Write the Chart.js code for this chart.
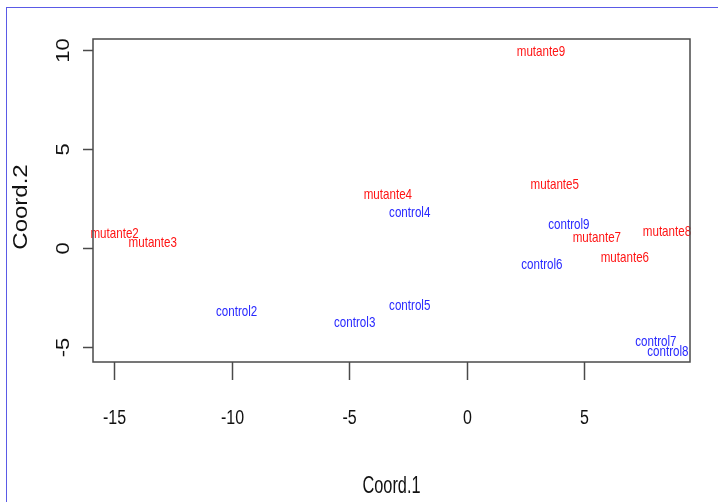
<!DOCTYPE html>
<html>
<head>
<meta charset="utf-8">
<script src="https://cdn.jsdelivr.net/npm/chart.js@4"></script>
<style>
  html, body { margin: 0; padding: 0; background: #fff; }
  #wrap { position: relative; width: 718px; height: 502px; }
  #frame { position: absolute; left: 6px; top: 7px; right: 0; bottom: 0;
           border-left: 1px solid #5a5ae6; border-top: 1px solid #5a5ae6; }
  canvas { position: absolute; left: 0; top: 0; }
</style>
</head>
<body>
<div id="wrap">
  <div id="frame"></div>
  <canvas id="chart" width="718" height="502"></canvas>
</div>
<script>
// point labels (Coord.1, Coord.2)
const controlNames = ['control2', 'control3', 'control4', 'control5', 'control6', 'control7', 'control8', 'control9'];
const controlX = [-9.79, -4.77, -2.43, -2.43, 3.19, 8.04, 8.55, 4.34];
const controlY = [-3.23, -3.79, 1.77, -2.93, -0.86, -4.75, -5.25, 1.16];

const mutantNames = ['mutante2', 'mutante3', 'mutante4', 'mutante5', 'mutante6', 'mutante7', 'mutante8', 'mutante9'];
const mutantX = [-14.98, -13.36, -3.36, 3.74, 6.72, 5.53, 8.51, 3.15];
const mutantY = [0.71, 0.25, 2.68, 3.18, -0.51, 0.51, 0.81, 9.9];

const xTicks = [-15, -10, -5, 0, 5];
const yTicks = [-5, 0, 5, 10];
const xTitle = 'Coord.1';
const yTitle = 'Coord.2';

const toPoints = (xs, ys, names) => xs.map((x, i) => ({x: x, y: ys[i], name: names[i]}));

const FONT = '"Liberation Sans", Arial, sans-serif';

// the original picture is squeezed sideways, so text gets a horizontal scale
function squeezedText(ctx, text, x, y, size, sx, rotated) {
  ctx.save();
  ctx.translate(x, y);
  ctx.scale(sx, 1);
  if (rotated) ctx.rotate(-Math.PI / 2);
  ctx.font = size + 'px ' + FONT;
  ctx.fillText(text, 0, 0);
  ctx.restore();
}

// draws the R-style box, axes and the text labels at each point
const rPlot = {
  id: 'rPlot',
  afterDatasetsDraw(chart) {
    const ctx = chart.ctx;
    const a = chart.chartArea;
    const xs = chart.scales.x, ys = chart.scales.y;
    ctx.save();
    ctx.textAlign = 'center';
    ctx.textBaseline = 'middle';

    // text labels
    chart.data.datasets.forEach(ds => {
      ctx.fillStyle = ds.labelColor;
      ds.data.forEach(p => {
        squeezedText(ctx, p.name, xs.getPixelForValue(p.x), ys.getPixelForValue(p.y), 14.5, 0.8, false);
      });
    });

    // box
    ctx.strokeStyle = '#4a4a4a';
    ctx.lineWidth = 1.5;
    ctx.strokeRect(a.left, a.top, a.right - a.left, a.bottom - a.top);

    // x axis
    ctx.fillStyle = '#111';
    xTicks.forEach(v => {
      const px = Math.round(xs.getPixelForValue(v)) + 0.5;
      ctx.beginPath();
      ctx.moveTo(px, a.bottom);
      ctx.lineTo(px, a.bottom + 18);
      ctx.stroke();
      squeezedText(ctx, String(v), px, a.bottom + 56, 20, 0.8, false);
    });
    squeezedText(ctx, xTitle, (a.left + a.right) / 2, a.bottom + 124, 24, 0.68, false);

    // y axis
    yTicks.forEach(v => {
      const py = Math.round(ys.getPixelForValue(v)) + 0.5;
      ctx.beginPath();
      ctx.moveTo(a.left - 10, py);
      ctx.lineTo(a.left, py);
      ctx.stroke();
      squeezedText(ctx, String(v), a.left - 29, py, 22, 0.83, true);
    });
    squeezedText(ctx, yTitle, 22, 207, 24, 0.82, true);

    ctx.restore();
  }
};

new Chart(document.getElementById('chart'), {
  type: 'scatter',
  data: {
    datasets: [
      {label: 'control', data: toPoints(controlX, controlY, controlNames), labelColor: 'rgb(40,40,255)', pointRadius: 0},
      {label: 'mutante', data: toPoints(mutantX, mutantY, mutantNames), labelColor: 'rgb(255,20,20)', pointRadius: 0}
    ]
  },
  options: {
    responsive: false,
    animation: false,
    layout: {padding: {left: 93, top: 39, right: 28, bottom: 140}},
    plugins: {legend: {display: false}, tooltip: {enabled: false}},
    scales: {
      x: {type: 'linear', min: -15.9, max: 9.49, display: false},
      y: {type: 'linear', min: -5.76, max: 10.56, display: false}
    }
  },
  plugins: [rPlot]
});
</script>
</body>
</html>
